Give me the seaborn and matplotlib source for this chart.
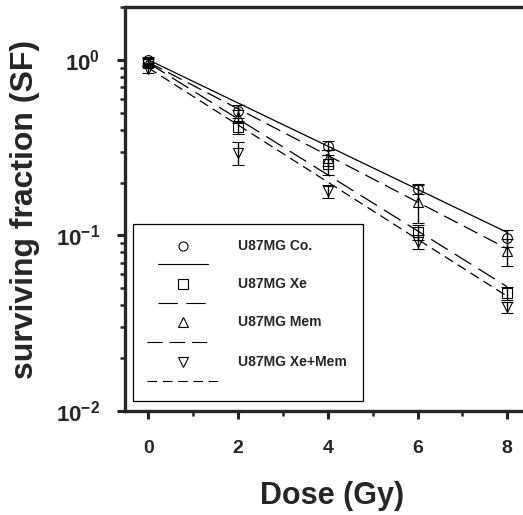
import numpy as np
import matplotlib.pyplot as plt
import pandas as pd
import seaborn as sns

# measured survival (mean +- error) per dose
dose = [0, 2, 4, 6, 8]
groups = ['U87MG Co.', 'U87MG Xe', 'U87MG Mem', 'U87MG Xe+Mem']
sf_co = [1.0, 0.51, 0.325, 0.185, 0.097]
err_co = [0.035, 0.045, 0.018, 0.012, 0.011]
sf_xe = [0.96, 0.415, 0.255, 0.104, 0.047]
err_xe = [0.05, 0.035, 0.033, 0.01, 0.004]
sf_mem = [0.97, 0.475, 0.277, 0.156, 0.081]
err_mem = [0.05, 0.04, 0.03, 0.038, 0.014]
sf_xemem = [0.89, 0.296, 0.178, 0.092, 0.039]
err_xemem = [0.05, 0.045, 0.015, 0.008, 0.003]

# fitted curves (end points)
fit_dose = [0, 8]
fit_co = [1.0, 0.104]
fit_xe = [0.96, 0.051]
fit_mem = [0.97, 0.084]
fit_xemem = [0.90, 0.045]

ytick_vals = [0.01, 0.1, 1]
ytick_labels = [r'$\mathbf{10^{-2}}$', r'$\mathbf{10^{-1}}$', r'$\mathbf{10^{0}}$']
xtick_vals = [0, 2, 4, 6, 8]

sns.set_style('ticks')
plt.rcParams['font.family'] = ['Liberation Sans', 'DejaVu Sans']
plt.rcParams['font.weight'] = 'bold'
plt.rcParams['mathtext.fontset'] = 'custom'
plt.rcParams['mathtext.rm'] = 'Liberation Sans:bold'
plt.rcParams['mathtext.bf'] = 'Liberation Sans:bold'
plt.rcParams['lines.scale_dashes'] = False

markers = ['o', 's', '^', 'v']
dashes = {'U87MG Co.': '', 'U87MG Xe': (14, 6), 'U87MG Mem': (11, 5), 'U87MG Xe+Mem': (7, 4)}

fig = plt.figure(figsize=(5.23, 5.15), dpi=100)
ax = fig.add_axes([125 / 523, 104 / 515, 415 / 523, 404 / 515])

fit_df = pd.DataFrame({
    'dose': fit_dose * 4,
    'sf': fit_co + fit_xe + fit_mem + fit_xemem,
    'group': np.repeat(groups, 2),
})
sns.lineplot(data=fit_df, x='dose', y='sf', style='group', dashes=dashes,
             color='black', linewidth=0.9, legend=False, ax=ax)

pts = [(sf_co, err_co), (sf_xe, err_xe), (sf_mem, err_mem), (sf_xemem, err_xemem)]
for (sf, err), m in zip(pts, markers):
    ax.errorbar(dose, sf, yerr=err, fmt=m, ms=7, mfc='none', mec='black', mew=0.8,
                ecolor='black', elinewidth=1.0, capsize=4, capthick=1.6, zorder=3)

ax.set_yscale('log')
ax.set_ylim(0.01, 2.0)
ax.set_xlim(-0.52, 8.73)
ax.set_yticks(ytick_vals)
ax.set_yticklabels(ytick_labels)
ax.set_xticks(xtick_vals)
ax.set_xticks([1, 3, 5, 7], minor=True)
ax.tick_params(axis='both', which='major', direction='out', length=6, width=2.2,
               labelsize=14)
ax.tick_params(axis='x', which='major', pad=15)
ax.tick_params(axis='y', which='major', labelsize=16, pad=12)
ax.tick_params(axis='both', which='minor', direction='out', length=3.5, width=1.8)
for lab in ax.get_xticklabels():
    lab.set_fontweight('bold')

for side in ['left', 'bottom', 'top']:
    ax.spines[side].set_linewidth(2.4)
ax.spines['right'].set_visible(False)

ax.set_xlabel('Dose (Gy)', fontsize=22, fontweight='bold', labelpad=17)
ax.set_ylabel('surviving fraction (SF)', fontsize=23, fontweight='bold', labelpad=11)

# legend box in SigmaPlot style: marker row, then line sample row
ax.add_patch(plt.Rectangle((0.019, 0.025), 0.555, 0.438, transform=ax.transAxes,
                           fill=False, lw=0.9, ec='black', zorder=4))
mark_y = [0.408, 0.314, 0.220, 0.121]
line_y = [0.364, 0.267, 0.171, 0.074]
line_x = [(0.080, 0.200), (0.080, 0.200), (0.053, 0.212), (0.053, 0.229)]
for g, m, my, ly, lx in zip(groups, markers, mark_y, line_y, line_x):
    ax.plot([0.140], [my], marker=m, ms=6.5, mfc='none', mec='black', mew=0.8,
            transform=ax.transAxes, zorder=5)
    ln, = ax.plot(lx, [ly, ly], color='black', lw=0.8, transform=ax.transAxes, zorder=5)
    if dashes[g]:
        ln.set_dashes(dashes[g])
    ax.text(0.272, my, g, transform=ax.transAxes, fontsize=10, fontweight='bold',
            va='center', ha='left', zorder=5)

fig.savefig('out.png', dpi=100)
